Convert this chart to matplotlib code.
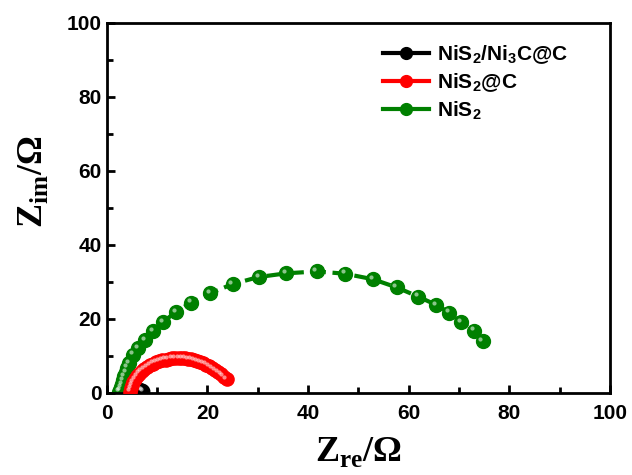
import matplotlib
matplotlib.use("Agg")
import matplotlib.pyplot as plt
from matplotlib.lines import Line2D
from matplotlib.transforms import offset_copy

# data
black_x = [4.7, 4.9, 5.2, 5.5, 5.8, 6.1, 6.4, 6.7, 7.0, 7.2]
black_y = [0.0, 0.3, 0.5, 0.7, 0.8, 0.9, 0.9, 0.85, 0.7, 0.5]

red_x = [4.6, 4.8, 5.0, 5.3, 5.6, 6.0, 6.4, 6.9, 7.4, 8.0, 8.6, 9.2, 9.8, 10.4,
         11.0, 11.7, 12.3, 13.0, 13.6, 14.3, 14.9, 15.5, 16.2, 16.8, 17.4, 18.0,
         18.6, 19.2, 19.8, 20.4, 21.0, 21.6, 22.2, 22.7, 23.2, 23.8]
red_y = [0.3, 1.2, 2.0, 2.9, 3.7, 4.5, 5.2, 5.9, 6.5, 7.0, 7.5, 7.9, 8.3, 8.6,
         8.8, 9.0, 9.2, 9.3, 9.4, 9.4, 9.4, 9.3, 9.2, 9.1, 8.9, 8.6,
         8.3, 8.0, 7.6, 7.2, 6.7, 6.2, 5.6, 5.0, 4.4, 3.7]

green_x = [2.4, 2.6, 2.8, 3.0, 3.2, 3.5, 3.8, 4.1, 4.5, 5.2, 6.2, 7.6, 9.2,
           11.2, 13.7, 16.8, 20.6, 25.0, 30.2, 35.7, 41.7, 47.3, 52.9, 57.6,
           61.9, 65.4, 68.1, 70.4, 73.0, 74.7]
green_y = [0.3, 0.8, 1.5, 2.4, 3.4, 4.5, 5.6, 6.8, 8.0, 10.3, 12.1, 14.3, 16.6,
           19.1, 21.9, 24.4, 26.9, 29.4, 31.3, 32.3, 32.8, 32.2, 30.7, 28.5,
           26.0, 23.8, 21.7, 19.1, 16.8, 13.9]

labels = [r'NiS$_\mathsf{2}$/Ni$_\mathsf{3}$C@C', r'NiS$_\mathsf{2}$@C', r'NiS$_\mathsf{2}$']
colors = ['black', 'red', 'green']

plt.rcParams['font.family'] = ['Liberation Sans', 'DejaVu Sans']
plt.rcParams['font.weight'] = 'bold'
plt.rcParams['mathtext.fontset'] = 'custom'
plt.rcParams['mathtext.rm'] = 'Liberation Serif:bold'
plt.rcParams['mathtext.bf'] = 'Liberation Serif:bold'
plt.rcParams['mathtext.sf'] = 'Liberation Sans:bold'

fig = plt.figure(figsize=(6.32, 4.75), dpi=100)
ax = fig.add_axes([0.169, 0.173, 0.796, 0.779])

# little white glint on each ball, like the original
glint = offset_copy(ax.transData, fig=fig, x=-1.6, y=1.6, units='points')

series = [(green_x, green_y, 'green', 2, 10),
          (black_x, black_y, 'black', 3, 9),
          (red_x, red_y, 'red', 4, 9.5)]
for xs, ys, c, z, ms in series:
    ls = '--' if c == 'green' else '-'
    ax.plot(xs, ys, ls, color=c, lw=3, marker='o', ms=ms,
            mec=c, mfc=c, zorder=z)
    ax.plot(xs, ys, 'o', ms=3, color='white', alpha=0.55, mew=0,
            transform=glint, zorder=z + 0.1)

ax.set_xlim(0, 100)
ax.set_ylim(0, 100)
ax.set_xticks(range(0, 101, 20))
ax.set_yticks(range(0, 101, 20))
ax.set_xticks(range(10, 100, 20), minor=True)
ax.set_yticks(range(10, 100, 20), minor=True)
ax.tick_params(which='both', direction='in', width=2, labelsize=15)
ax.tick_params(which='major', length=6)
ax.tick_params(which='minor', length=4)
ax.tick_params(axis='x', which='major', pad=8)
for sp in ax.spines.values():
    sp.set_linewidth(2)
for t in ax.get_xticklabels() + ax.get_yticklabels():
    t.set_fontweight('bold')

ax.set_xlabel(r'$\mathbf{Z}_{\mathbf{re}}\mathbf{/\Omega}$', fontsize=26, labelpad=8)
ax.set_ylabel(r'$\mathbf{Z}_{\mathbf{im}}\mathbf{/\Omega}$', fontsize=26)
# the y title sits a bit above the middle in the original
ax.yaxis.set_label_coords(-0.112, 0.57)

# legend handles are solid lines for every series
handles = [Line2D([], [], color=c, lw=3, marker='o', ms=8.5, mec=c, mfc=c)
           for c in colors]
leg = ax.legend(handles, labels, loc='upper right',
                bbox_to_anchor=(0.955, 0.995), frameon=False,
                prop={'weight': 'bold', 'size': 15}, handlelength=2.2,
                handletextpad=0.4, labelspacing=0.25)

fig.savefig('out.png', dpi=100)
